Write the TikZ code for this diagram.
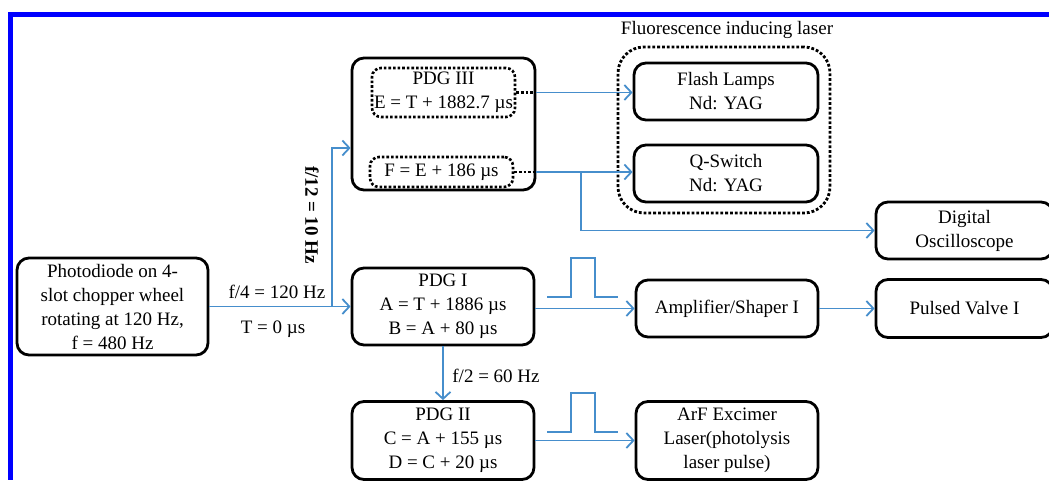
\documentclass[tikz,border=0pt]{standalone}
\usepackage{fontspec}
\setmainfont{Liberation Serif}
\usetikzlibrary{arrows.meta,calc}
\definecolor{lineblue}{RGB}{70,142,204}
\definecolor{frameblue}{RGB}{0,0,255}
\begin{document}
\begin{tikzpicture}[x=1pt,y=-1pt,
  lbl/.style={font=\fontsize{19}{24}\selectfont, align=center, inner sep=1pt},
  box/.style={lbl, draw=black, line width=2.8pt, rounded corners=12pt},
  dbox/.style={lbl, draw=black, line width=2.6pt, dotted, rounded corners=9pt},
  arr/.style={draw=lineblue, line width=1.8pt, -{Straight Barb[length=7pt,width=15pt]}},
  bline/.style={draw=lineblue, line width=1.8pt},
  stub/.style={draw=black, line width=2.6pt, dotted}]
\useasboundingbox (0,0) rectangle (1049,480);
% frame
\fill[frameblue] (8,12) rectangle (1049,17);
\fill[frameblue] (8,12) rectangle (13,480);
% nodes
\node[box, minimum width=191pt, minimum height=97pt] (photo) at (112.5,306.5)
  {Photodiode on 4-\\slot chopper wheel\\rotating at 120 Hz,\\f = 480 Hz};
\node[box, minimum width=183pt, minimum height=132pt] (pdg3) at (443.5,124) {};
\node[dbox, minimum width=143pt, minimum height=49pt] (e1) at (443.5,92.5)
  {PDG III\\E = T + 1882.7 µs};
\node[dbox, minimum width=143pt, minimum height=30pt] (f1) at (441.5,172)
  {F = E + 186 µs};
\node[draw=black, line width=2.8pt, dotted, rounded corners=26pt,
  minimum width=212pt, minimum height=166pt] (flu) at (724,130) {};
\node[lbl] (flulbl) at (727,30) {Fluorescence inducing laser};
\node[box, minimum width=184pt, minimum height=57pt] (flash) at (726,91.5)
  {Flash Lamps\\Nd: YAG};
\node[box, minimum width=184pt, minimum height=57pt] (qsw) at (726,173.5)
  {Q-Switch\\Nd: YAG};
\node[box, minimum width=177pt, minimum height=57pt] (osc) at (964.5,230.5)
  {Digital\\Oscilloscope};
\node[box, minimum width=182pt, minimum height=77pt] (pdg1) at (443,306.5)
  {PDG I\\A = T + 1886 µs\\B = A + 80 µs};
\node[box, minimum width=182pt, minimum height=57pt] (amp) at (727,308.5)
  {Amplifier/Shaper I};
\node[box, minimum width=177pt, minimum height=58pt] (valve) at (964.5,308.5)
  {Pulsed Valve I};
\node[box, minimum width=182pt, minimum height=78pt] (pdg2) at (443,440.5)
  {PDG II\\C = A + 155 µs\\D = C + 20 µs};
\node[box, minimum width=182pt, minimum height=78pt] (arf) at (727,440.5)
  {ArF Excimer\\Laser(photolysis\\laser pulse)};
% labels
\node[lbl] (f4) at (277,292) {f/4 = 120 Hz};
\node[lbl] (t0) at (273,329) {T = 0 µs};
\node[lbl, font=\fontsize{19}{24}\selectfont\bfseries, rotate=-90] (f12) at (312,215) {f/12 = 10 Hz};
\node[lbl] (f2) at (496,376) {f/2 = 60 Hz};
% coordinates
\coordinate (br1) at (332,306.5);
\coordinate (p3in) at ([yshift=-24pt]pdg3.west);
\coordinate (eout) at (e1.east -| pdg3.east);
\coordinate (fout) at (f1.east -| pdg3.east);
\coordinate (br2) at (581,172);
% connectors
\draw[arr] (photo.east) -- (pdg1.west);
\draw[arr] (br1) |- (p3in);
\draw[stub] (e1.east) -- (eout);
\draw[stub] (f1.east) -- (fout);
\draw[arr] (eout) -- (eout -| flash.west);
\draw[arr] (fout) -- (fout -| qsw.west);
\draw[arr] (br2) |- (osc.west);
\draw[arr] (pdg1.east |- amp.west) -- (amp.west);
\draw[arr] (amp.east) -- (valve.west);
\draw[arr] (pdg1.south) -- (pdg2.north);
\draw[arr] (pdg2.east) -- (arf.west);
% pulse symbols
\draw[bline] (547,297) -- (571,297) -- (571,258) -- (595,258) -- (595,297) -- (618,297);
\draw[bline] (547,432) -- (571,432) -- (571,393) -- (595,393) -- (595,432) -- (618,432);
\end{tikzpicture}
\end{document}
